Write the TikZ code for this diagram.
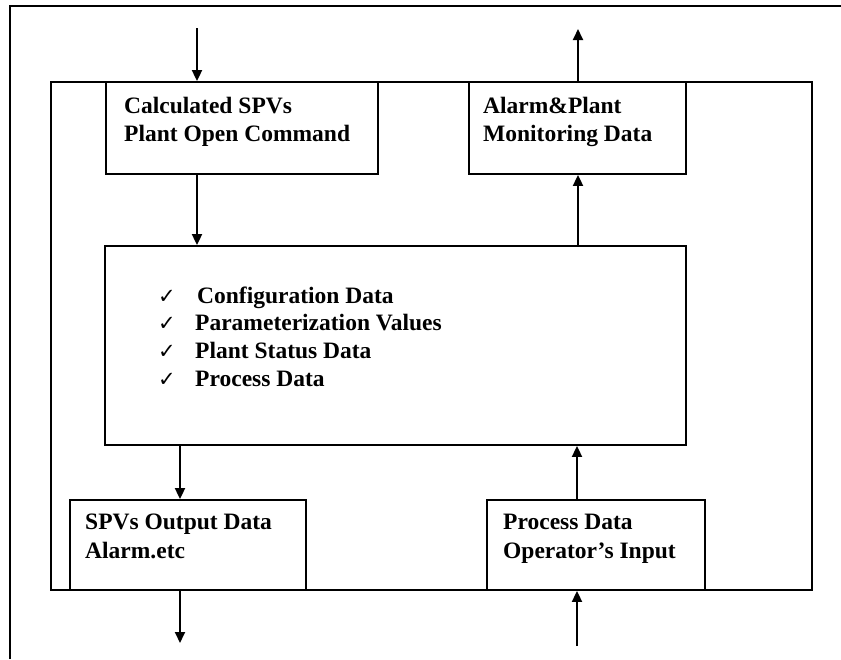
\documentclass[tikz,border=0pt]{standalone}
\usepackage{fontspec}
\setmainfont{Liberation Serif}
\newfontfamily\tickfont{DejaVu Sans}
\usetikzlibrary{arrows.meta}
\tikzset{
    BOX/.style={draw=black, shape=rectangle, line width=1.8pt,
        inner sep=0mm, fill=white},
    LINE_TEXT/.style={anchor=base west, inner sep=0mm,
        font={\fontsize{23.5}{28}\selectfont\bfseries}},
    TICK/.style={anchor=base west, inner sep=0mm,
        font={\fontsize{21}{24}\tickfont}},
    FLOW/.style={draw=black, line width=1.8pt,
        -{Triangle[width=10pt,length=11pt]}}
}
\pgfdeclarelayer{edgelayer}
\pgfdeclarelayer{nodelayer}
\pgfsetlayers{edgelayer,main,nodelayer}

\begin{document}
\begin{tikzpicture}[x=1pt, y=-1pt]
    \useasboundingbox (0,0) rectangle (841,659);
    % frame of the screenshot
    \draw[line width=1.8pt] (10,659) -- (10,6) -- (841,6);
    \begin{pgfonlayer}{edgelayer}
        \node [BOX, minimum width=761pt, minimum height=508pt] (system) at (431.5,336) {};
    \end{pgfonlayer}
    \begin{pgfonlayer}{nodelayer}
        \node [BOX, minimum width=272pt, minimum height=92pt] (calc) at (242,128) {};
        \node [BOX, minimum width=217pt, minimum height=92pt] (alarm) at (577.5,128) {};
        \node [BOX, minimum width=581pt, minimum height=199pt] (store) at (395.5,345.5) {};
        \node [BOX, minimum width=236pt, minimum height=90pt] (output) at (188,545) {};
        \node [BOX, minimum width=218pt, minimum height=90pt] (input) at (596,545) {};
        \node [LINE_TEXT] (calc1) at (124,113) {Calculated SPVs};
        \node [LINE_TEXT] (calc2) at (124,141) {Plant Open Command};
        \node [LINE_TEXT] (alarm1) at (483,113) {Alarm\&Plant};
        \node [LINE_TEXT] (alarm2) at (483,141) {Monitoring Data};
        \node [TICK] (tick1) at (158,303) {✓};
        \node [TICK] (tick2) at (158,330) {✓};
        \node [TICK] (tick3) at (158,358) {✓};
        \node [TICK] (tick4) at (158,386) {✓};
        \node [LINE_TEXT] (item1) at (197,303) {Configuration Data};
        \node [LINE_TEXT] (item2) at (195,330) {Parameterization Values};
        \node [LINE_TEXT] (item3) at (195,358) {Plant Status Data};
        \node [LINE_TEXT] (item4) at (195,386) {Process Data};
        \node [LINE_TEXT] (output1) at (85,529) {SPVs Output Data};
        \node [LINE_TEXT] (output2) at (85,558) {Alarm.etc};
        \node [LINE_TEXT] (input1) at (503,529) {Process Data};
        \node [LINE_TEXT] (input2) at (503,558) {Operator’s Input};
    \end{pgfonlayer}
    \coordinate (calc_in) at (197,28);
    \coordinate (alarm_out) at (578,29);
    \coordinate (output_out) at (180,643);
    \coordinate (input_in) at (577,646);
    \begin{pgfonlayer}{nodelayer}
        \draw[FLOW] (calc_in) to (calc.north -| calc_in);
        \draw[FLOW] (alarm.north -| alarm_out) to (alarm_out);
        \draw[FLOW] (output.south -| output_out) to (output_out);
        \draw[FLOW] (input_in) to (input.south -| input_in);
    \end{pgfonlayer}
    \begin{pgfonlayer}{edgelayer}
        \draw[FLOW] (calc.south -| calc_in) to (store.north -| calc_in);
        \draw[FLOW] (store.north -| alarm_out) to (alarm.south -| alarm_out);
        \draw[FLOW] (store.south -| output_out) to (output.north -| output_out);
        \draw[FLOW] (input.north -| input_in) to (store.south -| input_in);
    \end{pgfonlayer}
\end{tikzpicture}
\end{document}
